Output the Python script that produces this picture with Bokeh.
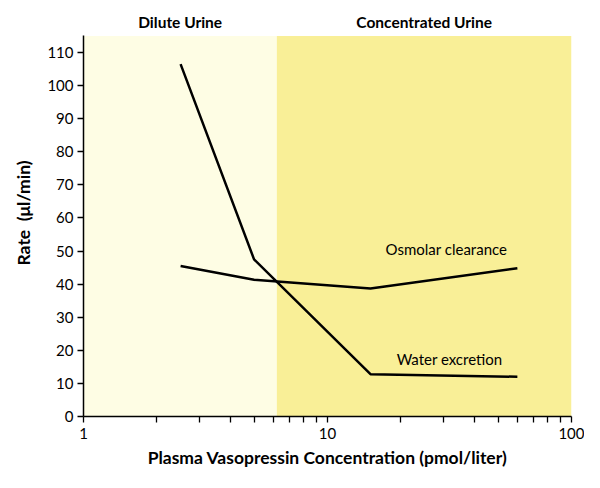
from bokeh.plotting import figure
from bokeh.models import Range1d, FixedTicker, Label
from bokeh.embed import file_html
from bokeh.resources import INLINE

# data
zone_edges = [1, 6.2, 100]
zone_names = ["Dilute Urine", "Concentrated Urine"]
zone_colors = ["#FEFDE4", "#F9EF97"]

vasopressin = [2.5, 5, 15, 60]
water_excretion = [106.5, 47.5, 12.8, 12.0]
osmolar_clearance = [45.5, 41.3, 38.7, 44.8]

x_major = [1, 10, 100]
x_major_labels = ["1", "10", "100"]
x_minor = [2, 3, 4, 5, 6, 7, 8, 9, 20, 30, 40, 50, 60, 70, 80, 90]
y_ticks = list(range(0, 111, 10))
y_top = 115

FONT = "Lato"

p = figure(width=584, height=472, x_axis_type="log",
           x_range=Range1d(1, 100), y_range=Range1d(0, 123),
           output_backend="svg", toolbar_location=None,
           min_border_left=83, min_border_right=13,
           min_border_top=9, min_border_bottom=56)
p.grid.visible = False
p.outline_line_color = None
p.background_fill_color = "white"
p.border_fill_color = "white"

p.quad(left=zone_edges[:-1], right=zone_edges[1:], bottom=0, top=y_top,
       fill_color=zone_colors, line_color=None)

p.line(vasopressin, water_excretion, line_color="black", line_width=2.5)
p.line(vasopressin, osmolar_clearance, line_color="black", line_width=2.5)

for i, name in enumerate(zone_names):
    cx = (zone_edges[i] * zone_edges[i + 1]) ** 0.5
    p.add_layout(Label(x=cx, y=119.3, text=name, text_align="center",
                       text_baseline="middle", text_font=FONT,
                       text_font_style="bold", text_font_size="15.5px",
                       text_color="black"))

p.add_layout(Label(x=17.3, y=50.5, text="Osmolar clearance", text_font=FONT,
                   text_font_size="15px", text_baseline="middle",
                   text_color="black"))
p.add_layout(Label(x=19.2, y=17.5, text="Water excretion", text_font=FONT,
                   text_font_size="15px", text_baseline="middle",
                   text_color="black"))

xa = p.xaxis[0]
xa.ticker = FixedTicker(ticks=x_major, minor_ticks=x_minor)
xa.major_label_overrides = {t: s for t, s in zip(x_major, x_major_labels)}
xa.axis_label = "Plasma Vasopressin Concentration (pmol/liter)"
ya = p.yaxis[0]
ya.ticker = FixedTicker(ticks=y_ticks)
ya.bounds = (0, y_top)
ya.axis_label = "Rate\u00a0\u00a0(\u03bcl/min)"

for ax in (xa, ya):
    ax.axis_line_color = "black"
    ax.axis_line_width = 1.5
    ax.major_tick_line_color = "black"
    ax.major_tick_line_width = 1.3
    ax.major_tick_in = 0
    ax.major_tick_out = 6
    ax.minor_tick_line_color = "black"
    ax.minor_tick_line_width = 1.3
    ax.minor_tick_in = 0
    ax.minor_tick_out = 6
    ax.major_label_text_font = FONT
    ax.major_label_text_font_size = "15px"
    ax.major_label_text_color = "black"
    ax.axis_label_text_font = FONT
    ax.axis_label_text_font_style = "bold"
    ax.axis_label_text_font_size = "17.5px"
    ax.axis_label_text_color = "black"
xa.major_label_standoff = 5
xa.axis_label_standoff = 5
ya.major_label_standoff = 4
ya.axis_label_standoff = 10

open("out.html", "w").write(file_html(p, INLINE))
